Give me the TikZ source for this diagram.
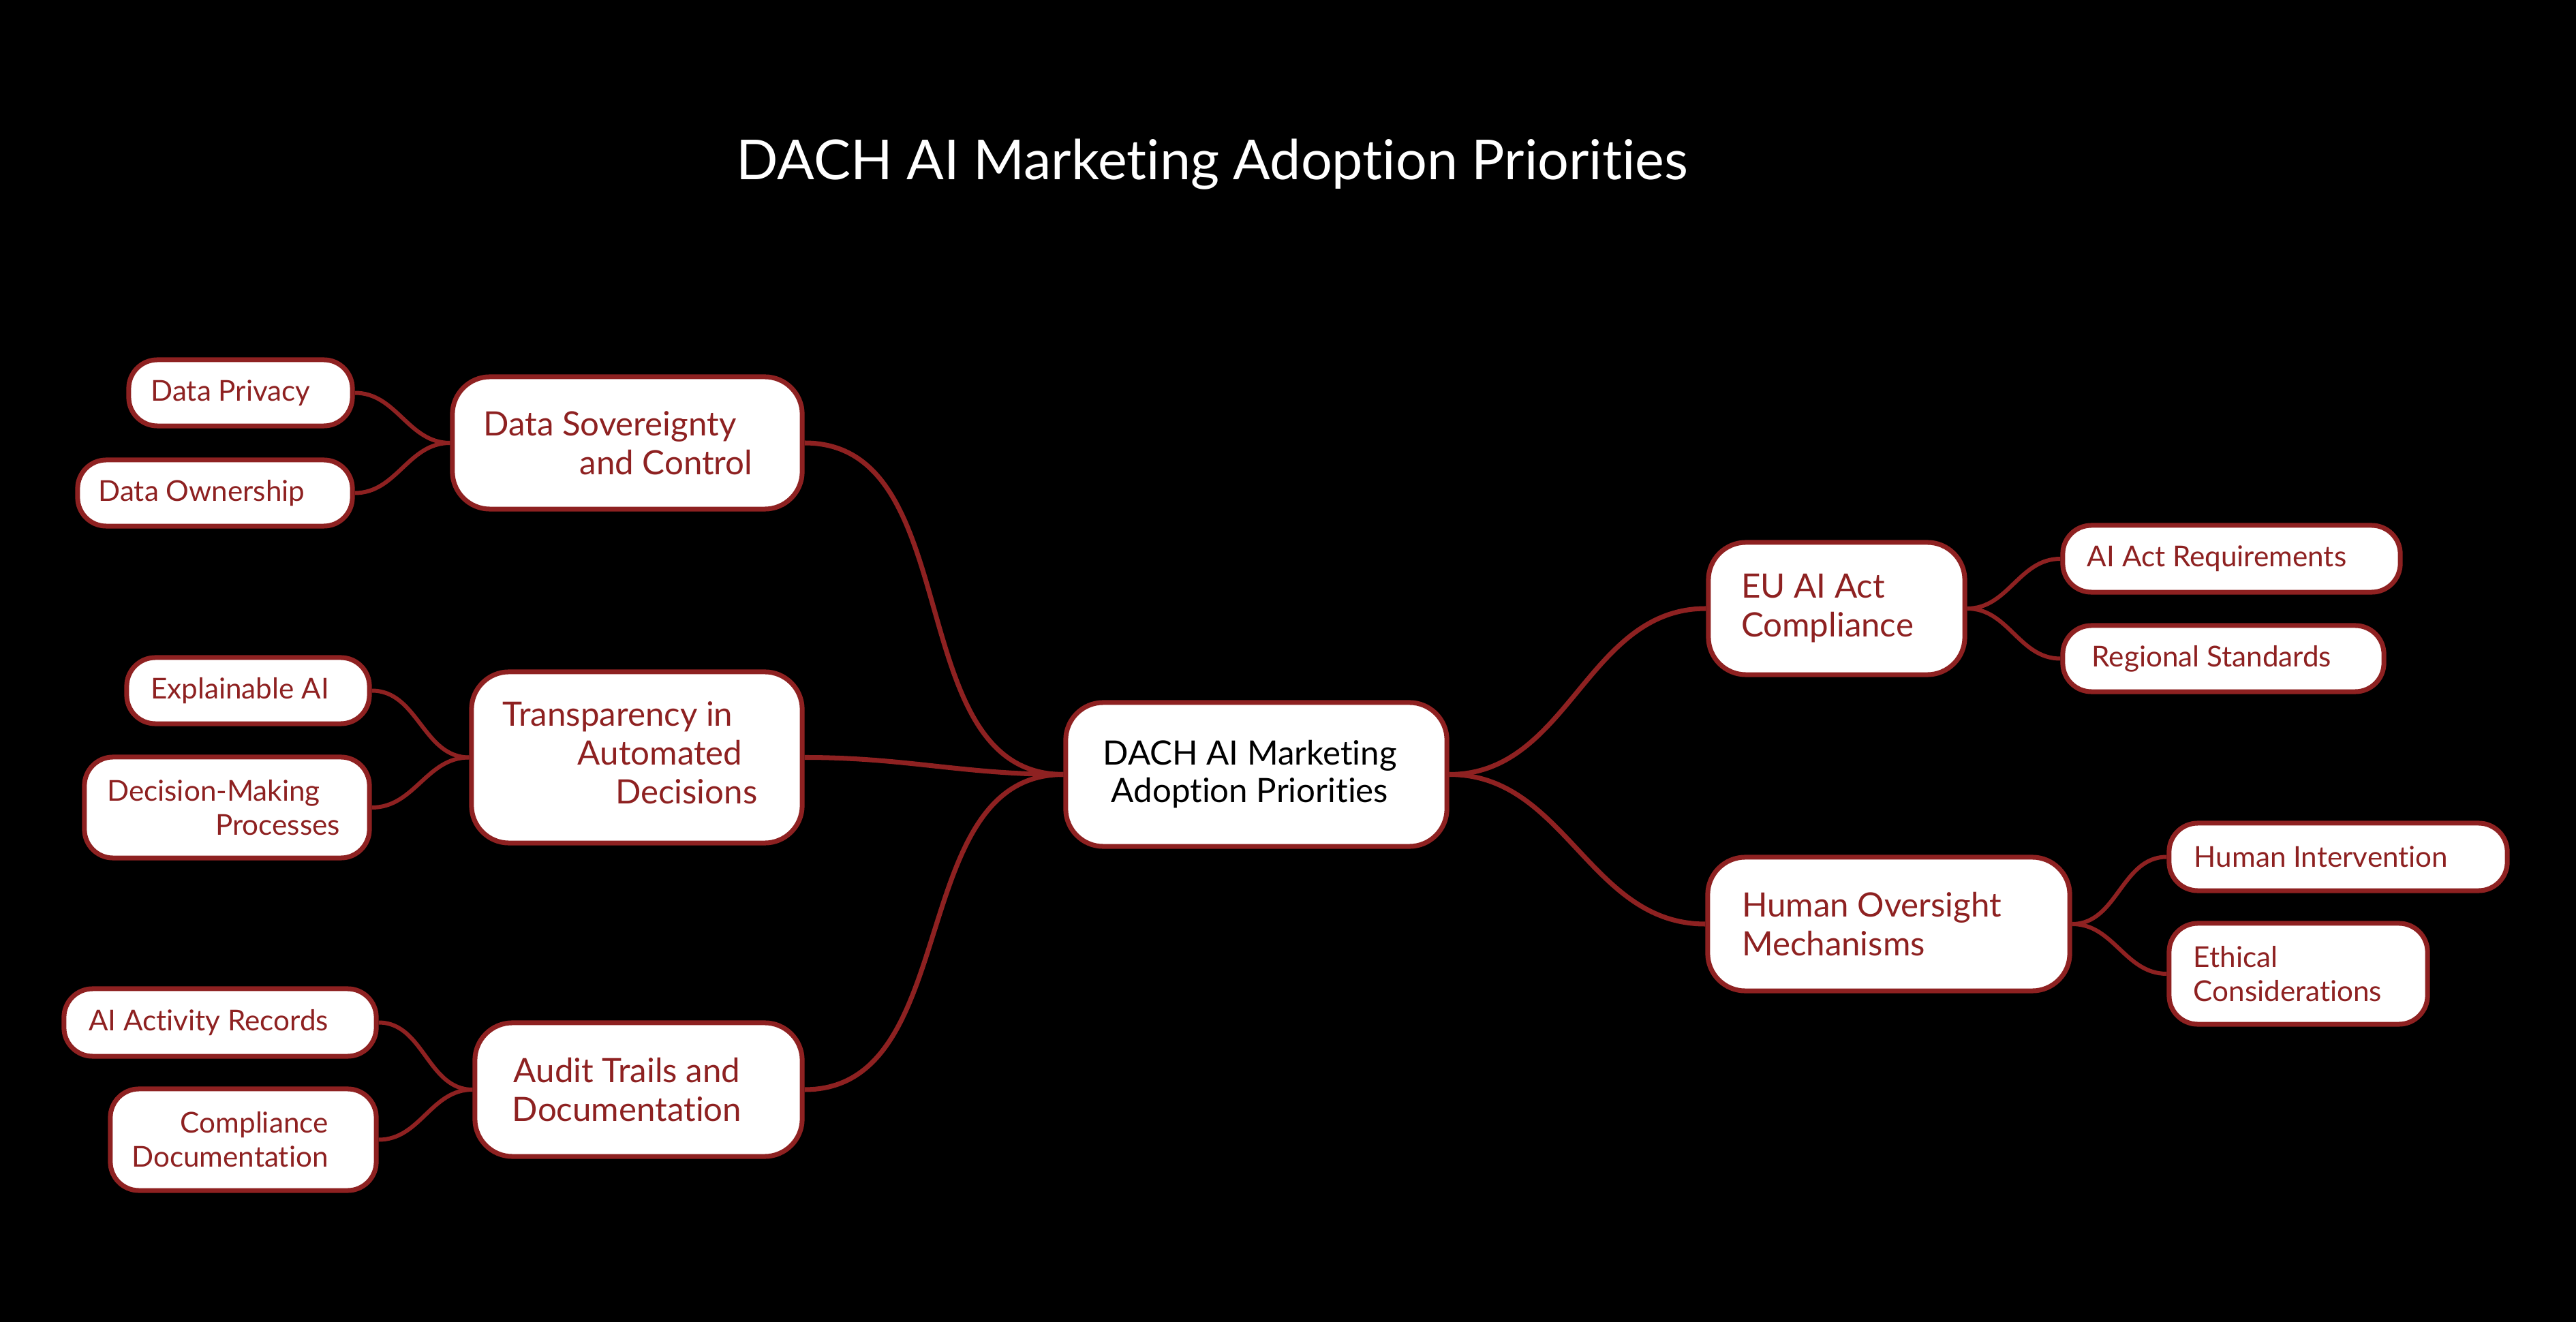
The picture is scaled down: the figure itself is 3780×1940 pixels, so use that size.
\documentclass[tikz,border=0pt]{standalone}
\usepackage{fontspec}
\setmainfont{Lato}[Ligatures={NoCommon,NoContextual}]
\definecolor{mmred}{HTML}{8E2121}
\newcommand\pad[1]{\hspace*{#1cm}}
\begin{document}
\begin{tikzpicture}[x=0.01cm,y=-0.01cm,
  box/.style={draw=mmred, fill=white, line width=2pt, inner sep=0pt},
  central/.style={box, rounded corners=0.55cm, text=black, font=\fontsize{14}{15.6}\selectfont, align=center},
  branch/.style={box, rounded corners=0.55cm, text=mmred, font=\fontsize{14}{16.2}\selectfont},
  leaf/.style={box, rounded corners=0.42cm, text=mmred, font=\fontsize{12}{14.2}\selectfont},
  link/.style={draw=mmred, line width=2pt},
  sublink/.style={draw=mmred, line width=1.7pt},
]
\useasboundingbox[fill=black] (0,0) rectangle (3780,1940);

\node[font=\fontsize{23}{26}\selectfont, text=white] (title) at (1779,241) {DACH AI Marketing Adoption Priorities};

% central
\node[central, minimum width=5.59cm, minimum height=2.11cm] (c) at (1843.5,1136.5) {DACH AI Marketing\pad{0.19}\\Adoption Priorities\pad{0.19}};

% left branches
\node[branch, minimum width=5.13cm, minimum height=1.94cm, align=right] (ds) at (920.5,650) {Data Sovereignty\pad{0.51}\\and Control\pad{0.27}};
\node[branch, minimum width=4.85cm, minimum height=2.51cm] (tr) at (934.5,1111.5) {\setlength{\tabcolsep}{0pt}\renewcommand{\arraystretch}{1}\begin{tabular}{r}Transparency in\pad{0.56}\\Automated\pad{0.42}\\Decisions\pad{0.2}\end{tabular}};
\node[branch, minimum width=4.80cm, minimum height=1.96cm, align=center] (at) at (937,1599) {Audit Trails and\pad{0.34}\\Documentation\pad{0.34}};

% right branches
\node[branch, minimum width=3.76cm, minimum height=1.94cm, align=left] (eu) at (2695,893) {EU AI Act\\Compliance\pad{0.27}};
\node[branch, minimum width=5.31cm, minimum height=1.96cm, align=left] (ho) at (2771.5,1356) {Human Oversight\pad{0.5}\\Mechanisms};

% leaves
\node[leaf, minimum width=3.28cm, minimum height=0.97cm] (dp) at (353,576.5) {Data Privacy\pad{0.29}};
\node[leaf, minimum width=4.03cm, minimum height=0.97cm] (do) at (315.5,723.5) {Data Ownership\pad{0.39}};
\node[leaf, minimum width=3.56cm, minimum height=0.97cm] (ea) at (364,1013.5) {Explainable AI\pad{0.24}};
\node[leaf, minimum width=4.18cm, minimum height=1.48cm, align=right] (dm) at (333,1185) {Decision-Making\pad{0.39}\\Processes\pad{0.10}};
\node[leaf, minimum width=4.58cm, minimum height=0.99cm] (ar) at (323,1500.5) {AI Activity Records\pad{0.34}};
\node[leaf, minimum width=3.90cm, minimum height=1.49cm, align=right] (cd) at (357,1672.5) {Compliance\pad{0.39}\\Documentation\pad{0.39}};
\node[leaf, minimum width=4.95cm, minimum height=0.98cm] (rq) at (3274.5,820) {AI Act Requirements\pad{0.43}};
\node[leaf, minimum width=4.71cm, minimum height=0.97cm] (rs) at (3262.5,966.5) {Regional Standards\pad{0.34}};
\node[leaf, minimum width=4.96cm, minimum height=0.99cm] (hi) at (3431,1257.5) {Human Intervention\pad{0.5}};
\node[leaf, minimum width=3.79cm, minimum height=1.48cm, align=left] (ec) at (3372.5,1429) {Ethical\\Considerations\pad{0.31}};

% connectors
\draw[link] (ds.east) to[out=0,in=180] (c.west);
\draw[link] (tr.east) to[out=0,in=180] (c.west);
\draw[link] (at.east) to[out=0,in=180] (c.west);
\draw[link] (c.east) to[out=0,in=180] (eu.west);
\draw[link] (c.east) to[out=0,in=180] (ho.west);

\draw[sublink] (dp.east) to[out=0,in=180] (ds.west);
\draw[sublink] (do.east) to[out=0,in=180] (ds.west);
\draw[sublink] (ea.east) to[out=0,in=180] (tr.west);
\draw[sublink] (dm.east) to[out=0,in=180] (tr.west);
\draw[sublink] (ar.east) to[out=0,in=180] (at.west);
\draw[sublink] (cd.east) to[out=0,in=180] (at.west);
\draw[sublink] (eu.east) to[out=0,in=180] (rq.west);
\draw[sublink] (eu.east) to[out=0,in=180] (rs.west);
\draw[sublink] (ho.east) to[out=0,in=180] (hi.west);
\draw[sublink] (ho.east) to[out=0,in=180] (ec.west);
\end{tikzpicture}
\end{document}
